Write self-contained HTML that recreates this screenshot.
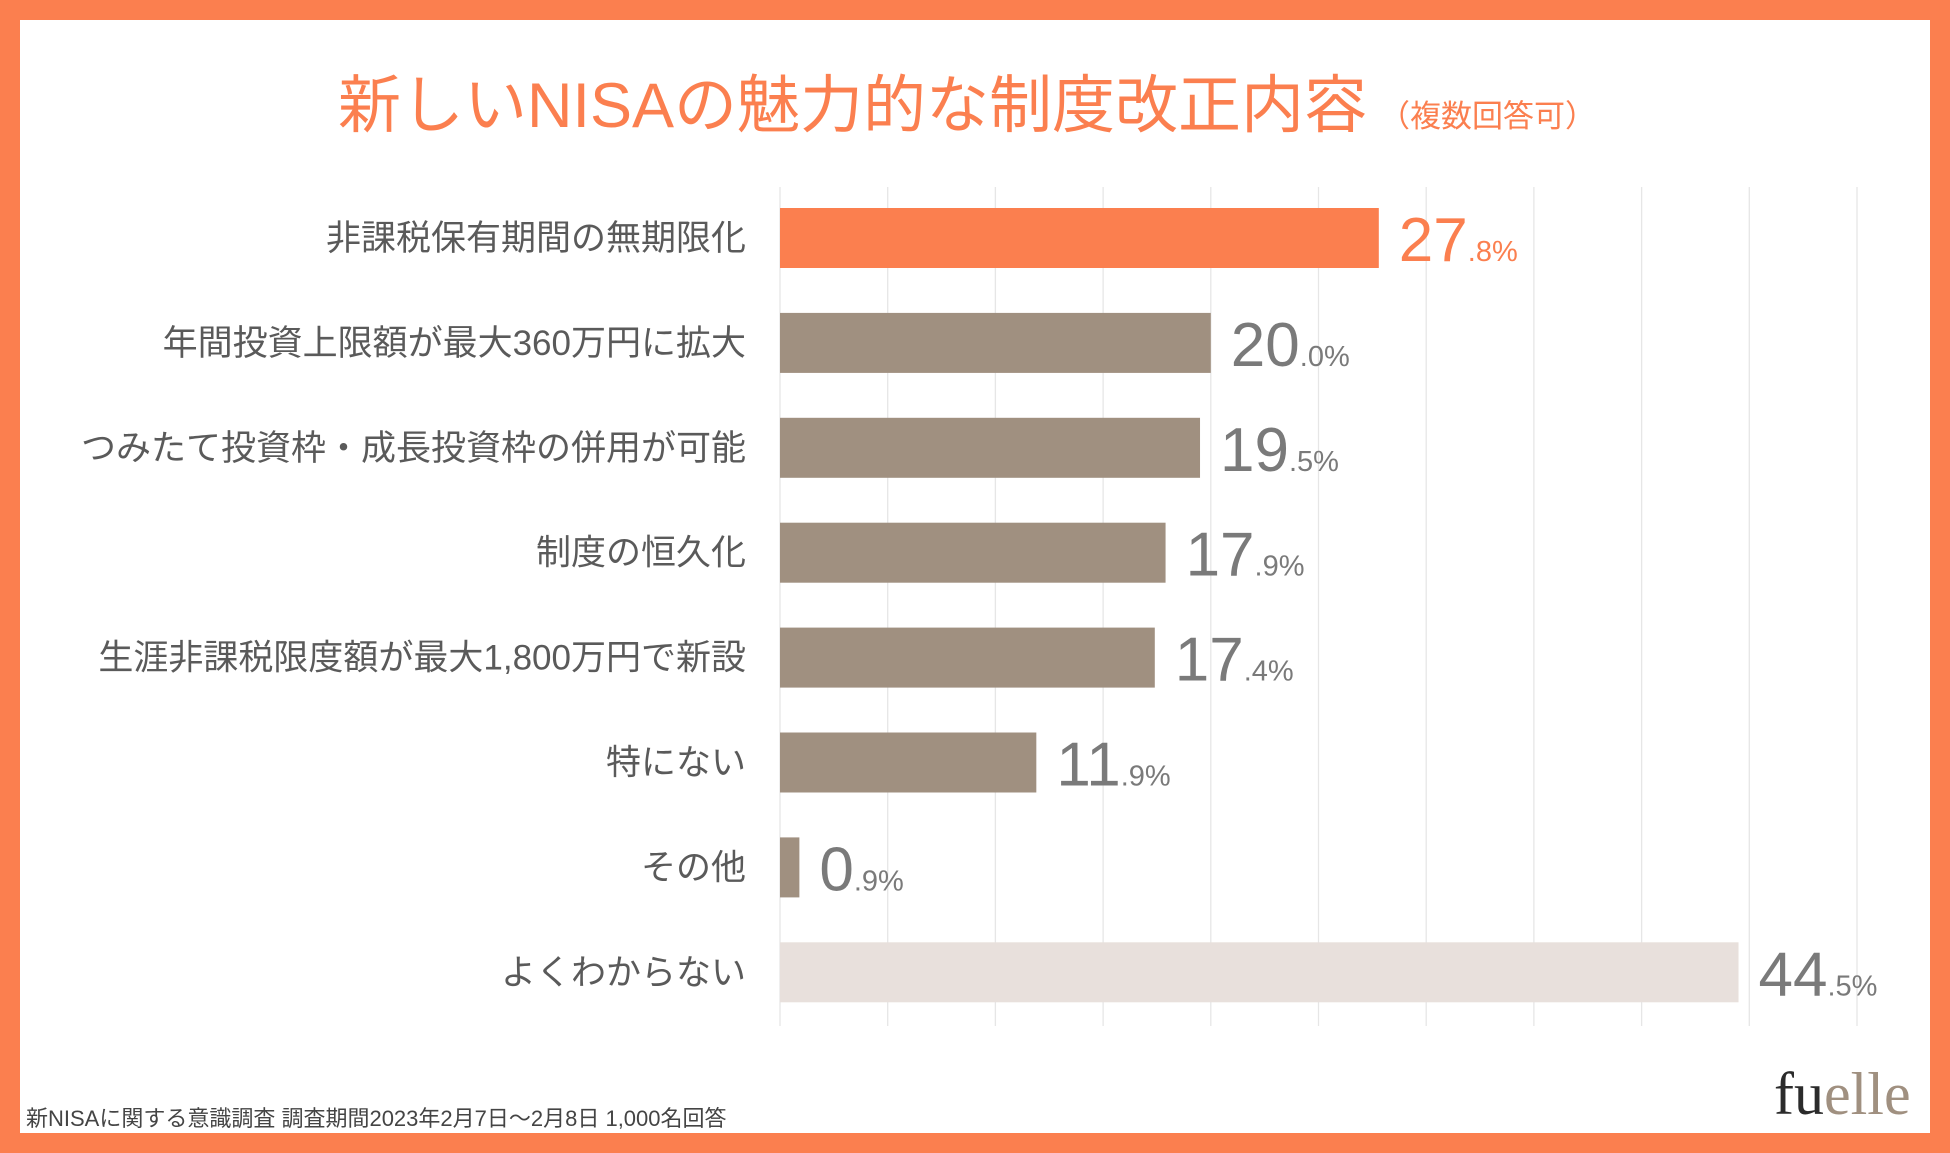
<!DOCTYPE html>
<html><head><meta charset="utf-8">
<style>
html,body{margin:0;padding:0;}
body{width:1950px;height:1153px;background:#FB7F4F;position:relative;overflow:hidden;font-family:"Liberation Sans","Noto Sans CJK JP",sans-serif;}
#panel{position:absolute;left:20px;top:20px;width:1910px;height:1113px;background:#fff;}
#title{position:absolute;left:338px;top:68px;white-space:nowrap;color:#FB7F4F;font-size:63px;line-height:76px;}
#title small{font-size:31px;margin-left:12px;}
#foot{position:absolute;left:26px;top:1101px;font-size:22px;color:#444;white-space:nowrap;}
#logo{position:absolute;left:1774px;top:1060px;font-family:"Liberation Serif",serif;font-size:60px;color:#2b2b2b;}
#logo span{color:#a09080;}
</style></head><body>
<div id="panel"></div>
<div id="title">新しいNISAの魅力的な制度改正内容<small>（複数回答可）</small></div>
<svg id="chart" width="1950" height="1153" style="position:absolute;left:0;top:0"></svg>
<div id="foot">新NISAに関する意識調査 調査期間2023年2月7日〜2月8日 1,000名回答</div>
<div id="logo">fu<span>elle</span></div>
<script>
const categories=["非課税保有期間の無期限化","年間投資上限額が最大360万円に拡大","つみたて投資枠・成長投資枠の併用が可能","制度の恒久化","生涯非課税限度額が最大1,800万円で新設","特にない","その他","よくわからない"];
const values=[27.8,20.0,19.5,17.9,17.4,11.9,0.9,44.5];
const ticks=[0,5,10,15,20,25,30,35,40,45,50];
const NS="http://www.w3.org/2000/svg";
const svg=document.getElementById('chart');
const x0=780,pxPer=21.54,rowTop=238,rowStep=104.9,barH=60;
const xs=v=>x0+v*pxPer;
const ys=i=>rowTop+i*rowStep;
function mk(t,a){const e=document.createElementNS(NS,t);for(const k in a)e.setAttribute(k,a[k]);svg.appendChild(e);return e;}
ticks.forEach(t=>{
 const l=mk('line',{x1:xs(t),x2:xs(t),y1:187,y2:1026,stroke:'#e6e6e6','stroke-width':1.3});
 
 
});
categories.forEach((c,i)=>{
 const v=values[i];
 const col=i===0?'#FB7F4F':(i===7?'#E8E0DC':'#A09080');
 const r=mk('rect',{x:x0,y:ys(i)-barH/2,width:v*pxPer,height:barH,fill:col});
 
 
 const lab=mk('text',{x:746,y:ys(i)+12,'text-anchor':'end','font-size':35,fill:'#5a5a5a'});
 lab.textContent=c;
 
 
 const vc=i===0?'#FB7F4F':'#7a7a7a';
 const vt=mk('text',{x:xs(v)+20,y:ys(i)+23,fill:vc,'font-size':62});
 const parts=v.toFixed(1).split('.');
 const a=document.createElementNS(NS,'tspan');a.textContent=parts[0];vt.appendChild(a);
 const b=document.createElementNS(NS,'tspan');b.setAttribute('font-size','29');b.textContent='.'+parts[1]+'%';vt.appendChild(b);
 
 
});
</script>
</body></html>
